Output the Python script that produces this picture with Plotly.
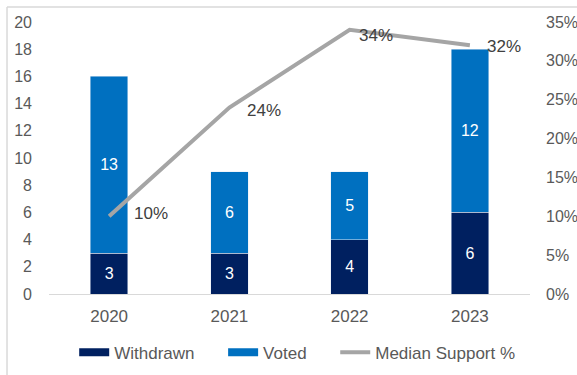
import plotly.graph_objects as go

years = ["2020", "2021", "2022", "2023"]
withdrawn = [3, 3, 4, 6]
voted = [13, 6, 5, 12]
median_support = [0.10, 0.24, 0.34, 0.32]
median_labels = ["10%", "24%", "34%", "32%"]

# pixel offsets of each line label from its point
label_dx = [23, 16, 7, 15]
label_dy = [3, -3, -6, -1]

FONT = "Liberation Sans"
TXT = "#595959"
NAVY = "#002060"
BLUE = "#0070C0"
GREY = "#A5A5A5"
PAD = "\u00a0" * 5  # spacing after a legend entry

fig = go.Figure()
fig.add_trace(go.Bar(
    x=years, y=withdrawn, name="Withdrawn", marker_color=NAVY, showlegend=False,
    text=[str(v) for v in withdrawn], textposition="inside", insidetextanchor="middle",
    textfont=dict(color="white", size=16, family=FONT), width=0.31,
))
fig.add_trace(go.Bar(
    x=years, y=voted, name="Voted", marker_color=BLUE, showlegend=False,
    text=[str(v) for v in voted], textposition="inside", insidetextanchor="middle",
    textfont=dict(color="white", size=16, family=FONT), width=0.31,
))
fig.add_trace(go.Scatter(
    x=years, y=median_support, name="Median Support %", yaxis="y2",
    mode="lines", line=dict(color=GREY, width=4), showlegend=False,
))

# legend keys: wide flat swatches for the bars, a thick line for the series
for name, color, w in [("Withdrawn" + PAD, NAVY, 8), ("Voted" + PAD, BLUE, 8),
                       ("Median Support %", GREY, 4)]:
    fig.add_trace(go.Scatter(x=[None], y=[None], mode="lines", name=name,
                             line=dict(color=color, width=w), showlegend=True))

# value labels for the median-support line
annotations = [
    dict(x=i, y=v, xref="x", yref="y2", text=lab, showarrow=False,
         xanchor="left", yanchor="middle", xshift=dx, yshift=dy,
         font=dict(color="#404040", size=17, family=FONT))
    for i, (v, lab, dx, dy) in enumerate(zip(median_support, median_labels, label_dx, label_dy))
]

fig.update_layout(
    width=577, height=375,
    margin=dict(l=49, r=47, t=22, b=81, autoexpand=False),
    barmode="stack",
    plot_bgcolor="white", paper_bgcolor="white",
    font=dict(family=FONT, color=TXT, size=16),
    showlegend=True,
    legend=dict(orientation="h", x=0.516, xanchor="center", y=-0.15, yanchor="top",
                font=dict(size=17, color=TXT), traceorder="normal", itemwidth=30),
    xaxis=dict(type="category", showline=True, linecolor="#D9D9D9", linewidth=1, ticks="",
               tickfont=dict(size=17, color=TXT), showgrid=False, ticklabelstandoff=7),
    yaxis=dict(range=[0, 20], dtick=2, showgrid=False, zeroline=False,
               tickfont=dict(size=16, color=TXT), ticklabelstandoff=16),
    yaxis2=dict(range=[0, 0.35], dtick=0.05, tickformat=".0%", overlaying="y",
                side="right", showgrid=False, zeroline=False,
                tickfont=dict(size=16, color=TXT), ticklabelstandoff=15),
    annotations=annotations,
    shapes=[
        dict(type="line", xref="paper", yref="paper", x0=-0.0873, x1=1.2,
             y0=1.055, y1=1.055, line=dict(color="#D9D9D9", width=1.5)),
        dict(type="line", xref="paper", yref="paper", x0=-0.0873, x1=-0.0873,
             y0=1.055, y1=-0.35, line=dict(color="#D9D9D9", width=1.5)),
    ],
)

fig.write_html("out.html")
